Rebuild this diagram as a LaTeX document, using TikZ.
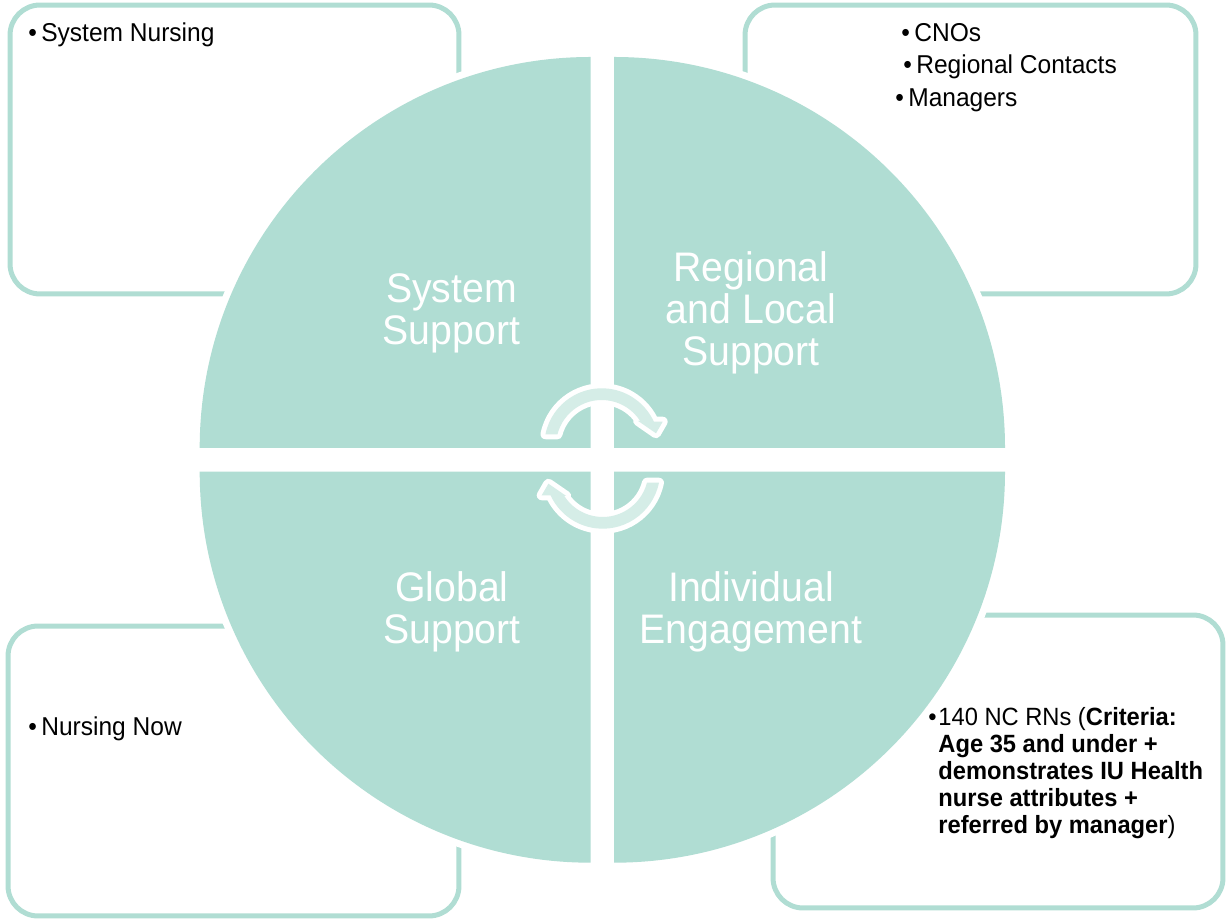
\documentclass[tikz,border=0pt]{standalone}
\usepackage{fontspec}
\setmainfont{Liberation Sans}[FakeStretch=0.95]
\usetikzlibrary{positioning,calc}

\definecolor{mint}{HTML}{B0DDD3}
\definecolor{mintlight}{HTML}{D5EDE7}

\tikzset{
  infobox/.style={draw=mint,line width=0.1cm,rounded corners=0.6cm,rectangle,inner sep=0pt},
  quadlbl/.style={text=white,font=\fontsize{23.5}{23.8}\selectfont,align=center},
  item/.style={anchor=base west,inner sep=0pt,font=\fontsize{14.7}{18}\selectfont},
  cyclearr/.style={fill=mintlight,preaction={draw=white,line width=0.2cm,line join=round}}
}

\newcommand{\bul}{\textbullet\hspace{2.5pt}}

\begin{document}
\begin{tikzpicture}[x=0.02cm,y=0.02cm]
  \useasboundingbox (0,0) rectangle (1229,922);

  % side boxes, behind the circle
  \node[infobox,minimum width=8.98cm,minimum height=5.78cm] (sysbox) at (234.5,772.5) {};
  \node[infobox,minimum width=9.02cm,minimum height=5.78cm] (regbox) at (970.5,772.5) {};
  \node[infobox,minimum width=9.02cm,minimum height=5.80cm] (globox) at (233.5,151) {};
  \node[infobox,minimum width=9.00cm,minimum height=5.86cm] (indbox) at (998,160.5) {};

  % four quarter disks, with a white rim cut out of the boxes
  \foreach \cx/\cy/\a in {590.7/474/90, 614/474/0, 590.7/450.3/180, 614/450.3/270} {
    \fill[white] (\cx,\cy) -- ++(\a:398) arc[start angle=\a,delta angle=90,radius=398] -- cycle;
    \fill[mint] (\cx,\cy) -- ++(\a:391) arc[start angle=\a,delta angle=90,radius=391] -- cycle;
  }

  \node[quadlbl] (sys) at (451.5,608.5) {System\\Support};
  \node[quadlbl] (reg) at (751,609) {Regional\\and Local\\Support};
  \node[quadlbl] (glo) at (452,310) {Global\\Support};
  \node[quadlbl] (ind) at (751,310) {Individual\\Engagement};

  % cycle arrows in the middle, the lower one turned half round
  \foreach \r in {0,180} {
    \begin{scope}[rotate around={\r:(602.2,463.5)},shift={(601.7,476.3)}]
      \fill[cyclearr] (168.5:57.4) arc[start angle=168.5,end angle=24.7,radius=57.4]
        -- (61,24) -- (54.3,12.4) -- (36.5,24.7) -- (32.7:45.7)
        arc[start angle=32.7,end angle=165.6,radius=45.7] -- cycle;
    \end{scope}
  }

  % box contents
  \node[item] (sysitem) at (28,880) {\bul System Nursing};
  \node[item] (cno) at (901,880.5) {\bul CNOs};
  \node[item] (regc) at (903,848) {\bul Regional Contacts};
  \node[item] (mgr) at (895,815.5) {\bul Managers};
  \node[item] (nnow) at (28,186) {\bul Nursing Now};
  \node[item,font=\fontsize{14.2}{15.3}\selectfont] (rns) at (928,196) {%
    \begin{tabular}[t]{@{}l@{\hspace{1pt}}l@{}}
      \textbullet & 140 NC RNs (\textbf{Criteria:}\\
       & \textbf{Age 35 and under +}\\
       & \textbf{demonstrates IU Health}\\
       & \textbf{nurse attributes +}\\
       & \textbf{referred by manager})
    \end{tabular}};
\end{tikzpicture}
\end{document}
